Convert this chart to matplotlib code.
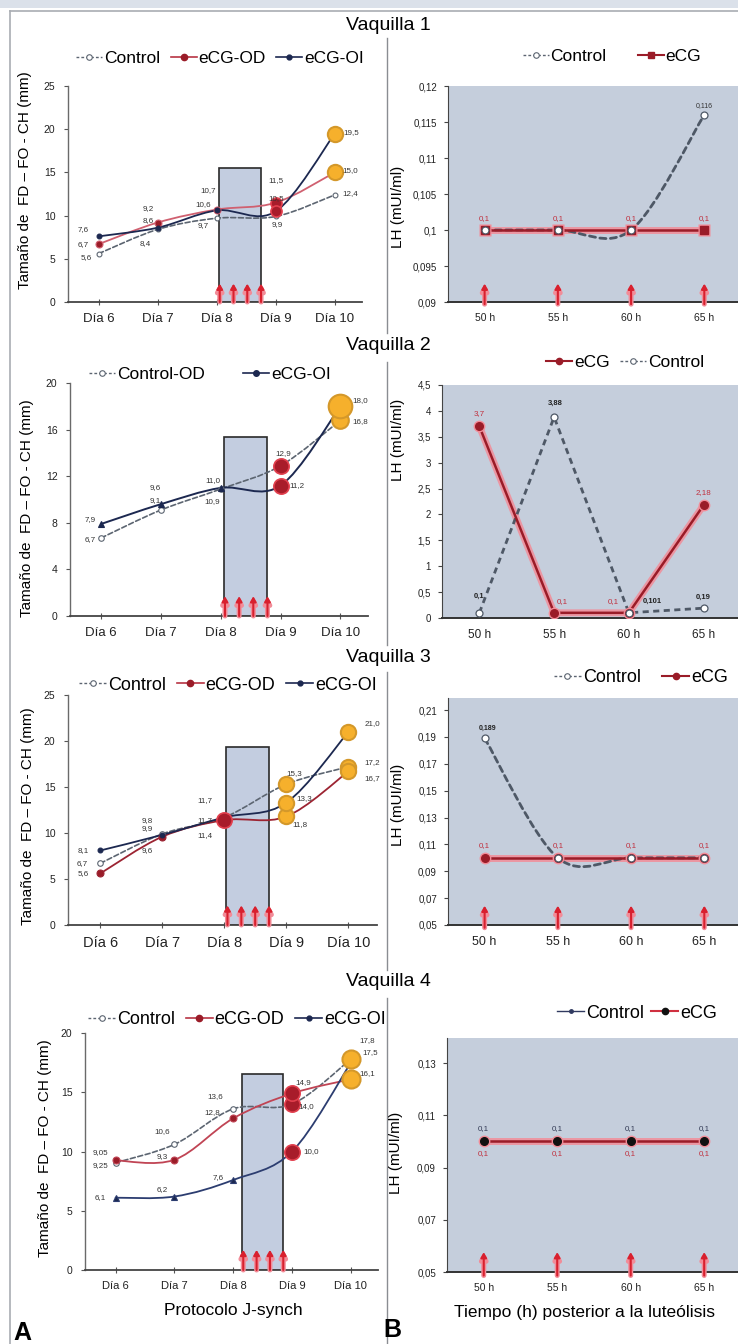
import numpy as np
import matplotlib
matplotlib.use("Agg")
import matplotlib.pyplot as plt
from matplotlib.path import Path
from matplotlib.patches import PathPatch, Rectangle
from matplotlib.lines import Line2D
from matplotlib.ticker import FuncFormatter

plt.rcParams['font.family'] = ['Liberation Sans', 'DejaVu Sans']

# ---- data ----
days = ['Día 6', 'Día 7', 'Día 8', 'Día 9', 'Día 10']
hours = ['50 h', '55 h', '60 h', '65 h']

# follicle size (mm), panel A
v1_ctrl = [5.6, 8.4, 9.7, 9.9, 12.4]
v1_od = [6.7, 9.2, 10.7, 11.5, 15.0]
v1_oi = [7.6, 8.6, 10.6, 10.5, 19.5]
v2_ctrl = [6.7, 9.1, 10.9, 12.9, 16.8]
v2_oi = [7.9, 9.6, 11.0, 11.2, 18.0]
v3_ctrl = [6.7, 9.9, 11.7, 15.3, 17.2]
v3_od = [5.6, 9.6, 11.4, 11.8, 16.7]
v3_oi = [8.1, 9.8, 11.7, 13.3, 21.0]
v4_ctrl = [9.05, 10.6, 13.6, 14.0, 17.8]
v4_od = [9.25, 9.3, 12.8, 14.9, 16.1]
v4_oi = [6.1, 6.2, 7.6, 10.0, 17.5]

# highlighted follicles: r = red (FD), o = orange (FO), O = large orange
v1_ctrl_mk = ['', '', '', '', '']
v1_od_mk = ['', '', '', 'r', 'o']
v1_oi_mk = ['', '', '', 'r', 'o']
v2_ctrl_mk = ['', '', '', 'r', 'o']
v2_oi_mk = ['', '', '', 'r', 'O']
v3_ctrl_mk = ['', '', '', 'o', 'o']
v3_od_mk = ['', '', 'r', 'o', 'o']
v3_oi_mk = ['', '', '', 'o', 'o']
v4_ctrl_mk = ['', '', '', 'r', 'o']
v4_od_mk = ['', '', '', 'r', 'o']
v4_oi_mk = ['', '', '', 'r', '']

# LH (mUI/ml), panel B
r1_ctrl = [0.1, 0.1, 0.1, 0.116]
r1_ecg = [0.1, 0.1, 0.1, 0.1]
r2_ecg = [3.7, 0.1, 0.1, 2.18]
r2_ctrl = [0.1, 3.88, 0.101, 0.19]
r3_ctrl = [0.189, 0.1, 0.1, 0.1]
r3_ecg = [0.1, 0.1, 0.1, 0.1]
r4_ctrl = [0.1, 0.1, 0.1, 0.1]
r4_ecg = [0.1, 0.1, 0.1, 0.1]

# ---- style ----
W, H = 738, 1344
CTRL = '#5c6571'
OD = '#b83443'
OI = '#1c2850'
DKRED = '#9a1c28'
PINK = '#f28c98'
RED_FILL, RED_EDGE = '#a81c2a', '#e2404e'
ORG_FILL, ORG_EDGE = '#f6b02c', '#d4982a'
BG = '#c5cedc'
RECT = '#c3cde0'

fig = plt.figure(figsize=(W / 100, H / 100), dpi=100)


def px_axes(x0, y0, x1, y1):
    return fig.add_axes([x0 / W, 1 - y1 / H, (x1 - x0) / W, (y1 - y0) / H])


def fx(x):
    return x / W


def fy(y):
    return 1 - y / H


def fmt(v):
    s = f"{v:.3f}".rstrip('0')
    if s.endswith('.'):
        s += '0'
    return s.replace('.', ',')


comma = FuncFormatter(lambda v, p: f"{v:g}".replace('.', ','))


def smooth_path(xs, ys):
    pts = np.column_stack([xs, ys]).astype(float)
    n = len(pts)
    verts, codes = [pts[0]], [Path.MOVETO]
    for i in range(n - 1):
        p0 = pts[i - 1] if i > 0 else pts[i]
        p1, p2 = pts[i], pts[i + 1]
        p3 = pts[i + 2] if i + 2 < n else pts[i + 1]
        verts += [p1 + (p2 - p0) / 6, p2 - (p3 - p1) / 6, p2]
        codes += [Path.CURVE4] * 3
    return Path(verts, codes)


def curve(ax, xs, ys, color, lw, ls='-', z=3):
    ax.add_patch(PathPatch(smooth_path(xs, ys), fill=False, edgecolor=color,
                           lw=lw, linestyle=ls, zorder=z, capstyle='round'))


def labels(ax, xs, ys, offs, color='#333333', size=5.8, weight='normal'):
    for x, y, (dx, dy) in zip(xs, ys, offs):
        ax.annotate(fmt(y), (x, y), xytext=(dx, dy), textcoords='offset points',
                    ha='center', va='center', fontsize=size, color=color,
                    weight=weight, zorder=8, annotation_clip=False)


def red_arrows(ax, xs, frac, bottom=-0.012):
    for x in xs:
        for col, lw in ((PINK, 3.6), ('#d8202e', 1.5)):
            ax.annotate('', xy=(x, frac), xytext=(x, bottom),
                        xycoords=ax.get_xaxis_transform(),
                        arrowprops=dict(arrowstyle='-|>,head_width=0.17,head_length=0.3',
                                        color=col, lw=lw, shrinkA=0, shrinkB=0),
                        annotation_clip=False, zorder=6)


def highlight(ax, xs, ys, kinds, sizes):
    for x, y, k in zip(xs, ys, kinds):
        if k == 'r':
            ax.plot(x, y, 'o', ms=sizes[0], mfc=RED_FILL, mec=RED_EDGE, mew=1.2, zorder=5)
        elif k in ('o', 'O'):
            ms = sizes[1] if k == 'o' else sizes[2]
            ax.plot(x, y, 'o', ms=ms, mfc=ORG_FILL, mec=ORG_EDGE, mew=1.5, zorder=5)


def style_left(ax, ymax, ystep, tick_fs):
    x = np.arange(len(days))
    ax.set_xlim(-0.52, 4.46)
    ax.set_ylim(0, ymax)
    ax.set_xticks(x)
    ax.set_xticklabels(days, fontsize=tick_fs, color='#222222')
    ax.set_yticks(np.arange(0, ymax + 0.1, ystep))
    ax.tick_params(axis='x', direction='inout', length=4, width=0.8, pad=6, color='#555555')
    ax.tick_params(axis='y', direction='out', length=3, width=0.8, labelsize=7.5,
                   color='#555555', labelcolor='#222222', pad=6)
    for s in ('top', 'right'):
        ax.spines[s].set_visible(False)
    ax.spines['left'].set_color('#6a6a6a')
    ax.spines['bottom'].set_color('#444444')
    ax.spines['left'].set_linewidth(1.0)
    ax.spines['bottom'].set_linewidth(1.3)
    ax.set_facecolor('none')


def window(ax, x0, x1, top):
    ax.add_patch(Rectangle((x0, 0), x1 - x0, top, fc=RECT, ec='#2a2a2a', lw=1.2, zorder=1))
    red_arrows(ax, np.linspace(x0 + 0.02, x1, 4), 0.085, bottom=0.0)


def style_right(ax, ylim, yticks, tick_fs=7.5):
    ax.set_xlim(-0.5, 3.46)
    ax.set_ylim(*ylim)
    ax.set_xticks(np.arange(len(hours)))
    ax.set_xticklabels(hours, fontsize=tick_fs, color='#222222')
    ax.set_yticks(yticks)
    ax.yaxis.set_major_formatter(comma)
    ax.tick_params(axis='x', length=0, pad=8)
    ax.tick_params(axis='y', direction='out', length=3, width=0.8, labelsize=7,
                   color='#444444', labelcolor='#222222', pad=5)
    ax.set_facecolor(BG)
    for s in ('top', 'right'):
        ax.spines[s].set_visible(False)
    ax.spines['left'].set_color('#444444')
    ax.spines['bottom'].set_color('#333333')
    ax.spines['bottom'].set_linewidth(1.4)


def ecg_line(ax, ys, marker='o', mfc=DKRED, ms=6):
    x = np.arange(len(ys))
    ax.plot(x, ys, color=PINK, lw=5, alpha=0.85, solid_capstyle='round', zorder=3)
    ax.plot(x, ys, color=DKRED, lw=1.8, zorder=4)
    ax.plot(x, ys, marker, ms=ms + 3, mfc=PINK, mec='none', zorder=4)
    ax.plot(x, ys, marker, ms=ms, mfc=mfc, mec=mfc, zorder=5)


def ctrl_open(ax, ys, smooth=True, ms=5):
    x = np.arange(len(ys))
    if smooth:
        curve(ax, x, ys, '#4e5866', 2.0, ls=(0, (2.2, 1.6)), z=4)
    else:
        ax.plot(x, ys, color='#4e5866', lw=2.0, ls=(0, (2.2, 1.6)), zorder=4)
    ax.plot(x, ys, 'o', ms=ms, mfc='white', mec='#4e5866', mew=0.9, zorder=6)


def legend_at(ax, handles, names, cx, cy, fs=12.5, colsp=0.6):
    ax.legend(handles, names, loc='center', bbox_to_anchor=(fx(cx), fy(cy)),
              bbox_transform=fig.transFigure, ncol=len(handles), frameon=False,
              fontsize=fs, handlelength=1.5, handletextpad=0.1, columnspacing=colsp,
              borderaxespad=0)


def h_ctrl(mfc='white'):
    return Line2D([], [], color='#5c6571', lw=1.0, ls=(0, (2, 1.5)), marker='o', ms=4,
                  mfc=mfc, mec='#5c6571', mew=0.8)


def h_line(color, marker='o', mfc=None, ms=4.5, lw=1.2):
    return Line2D([], [], color=color, lw=lw, marker=marker, ms=ms,
                  mfc=mfc or color, mec=mfc or color)


def left_series(ax, ys, color, ls, lw, marker, mfc, ms, offs, kinds, sizes):
    x = np.arange(len(ys))
    curve(ax, x, ys, color, lw, ls=ls)
    ax.plot(x, ys, marker, ms=ms, mfc=mfc, mec=color, mew=0.8, zorder=4)
    highlight(ax, x, ys, kinds, sizes)
    labels(ax, x, ys, offs)


DASH = (0, (3, 1.6))

# ---- page frame ----
fig.patches.append(Rectangle((0, fy(8)), 1, 1 - fy(8), transform=fig.transFigure,
                             fc='#dbe1ea', ec='none', zorder=0))
fig.add_artist(Line2D([fx(10), 1], [fy(11), fy(11)], color='#a9adb3', lw=1.2))
fig.add_artist(Line2D([fx(10), fx(10)], [fy(11), 0], color='#a9adb3', lw=1.2))
for y0, y1 in ((38, 333), (362, 645), (672, 970), (998, 1344)):
    fig.add_artist(Line2D([fx(387), fx(387)], [fy(y0), fy(y1)], color='#8a8d92', lw=1.0))

for i, yc in enumerate((26, 346, 657, 982)):
    fig.text(fx(388), fy(yc), f'Vaquilla {i + 1}', ha='center', va='center', fontsize=14)

ylab_l = 'Tamaño de  FD – FO - CH (mm)'
for x, yc in ((25, 180), (27, 508), (28, 816), (45, 1148)):
    fig.text(fx(x), fy(yc), ylab_l, rotation=90, ha='center', va='center', fontsize=11)
for x, yc in ((398, 207), (398, 440), (398, 805), (396, 1153)):
    fig.text(fx(x), fy(yc), 'LH (mUI/ml)', rotation=90, ha='center', va='center', fontsize=11)

# ---- Vaquilla 1 ----
ax = px_axes(68, 86, 362, 302)
style_left(ax, 25, 5, 9.5)
window(ax, 2.03, 2.75, 15.5)
left_series(ax, v1_ctrl, CTRL, DASH, 1.2, 'o', 'white', 3.5,
            [(-9, -3), (-9, -10), (-10, -5), (1, -6), (11, 1)], v1_ctrl_mk, (8, 11, 14))
left_series(ax, v1_od, '#d06070', '-', 1.3, 'o', DKRED, 5,
            [(-11, 0), (-7, 10), (-6, 14), (0, 16), (11, 1)], v1_od_mk, (8, 11, 14))
left_series(ax, v1_oi, OI, '-', 1.3, 'o', OI, 3.5,
            [(-11, 5), (-7, 5), (-10, 4), (0, 9), (12, 1)], v1_oi_mk, (8, 11, 14))
legend_at(ax, [h_ctrl(), h_line(OD, mfc=DKRED), h_line(OI, ms=3.5)],
          ['Control', 'eCG-OD', 'eCG-OI'], 220, 58)

ax = px_axes(448, 86, 738, 302)
style_right(ax, (0.09, 0.12), [0.09, 0.095, 0.1, 0.105, 0.11, 0.115, 0.12])
ctrl_open(ax, r1_ctrl)
ecg_line(ax, r1_ecg, marker='s', ms=5.5)
labels(ax, [3], [r1_ctrl[3]], [(0, 7)], color='#333333', size=5)
labels(ax, np.arange(4), r1_ecg, [(0, 8)] * 4, color='#c0303e', size=5.8)
red_arrows(ax, np.arange(4), 0.085, bottom=-0.01)
legend_at(ax, [h_ctrl(), h_line(DKRED, marker='s', lw=1.5)], ['Control', 'eCG'], 612, 56,
          colsp=1.8)

# ---- Vaquilla 2 ----
ax = px_axes(70, 383, 368, 616)
style_left(ax, 20, 4, 9.5)
window(ax, 2.05, 2.78, 15.4)
left_series(ax, v2_ctrl, CTRL, DASH, 1.2, 'o', 'white', 4,
            [(-8, -1), (-4, 7), (-6, -9), (2, 9), (14, -1)], v2_ctrl_mk, (11, 12, 17))
left_series(ax, v2_oi, OI, '-', 1.4, '^', OI, 5,
            [(-8, 3), (-4, 12), (-6, 5), (12, 0), (14, 4)], v2_oi_mk, (11, 12, 17))
legend_at(ax, [h_ctrl(), h_line(OI, ms=4)], ['Control-OD', 'eCG-OI'], 210, 374, colsp=2.2)

ax = px_axes(442, 385, 738, 618)
style_right(ax, (0, 4.5), np.arange(0, 4.6, 0.5), tick_fs=8.5)
ctrl_open(ax, r2_ctrl, smooth=False)
ecg_line(ax, r2_ecg, ms=5.5)
labels(ax, np.arange(4), r2_ecg, [(0, 9), (6, 8), (-11, 8), (0, 9)], color='#c0303e', size=5.8)
labels(ax, np.arange(4), r2_ctrl, [(0, 12), (1, 10), (17, 8), (0, 8)], color='#222222',
       size=5.5, weight='bold')
legend_at(ax, [h_line(DKRED, lw=1.5), h_ctrl()], ['eCG', 'Control'], 625, 362)

# ---- Vaquilla 3 ----
ax = px_axes(68, 695, 377, 925)
style_left(ax, 25, 5, 10.5)
window(ax, 2.03, 2.72, 19.4)
left_series(ax, v3_ctrl, CTRL, DASH, 1.2, 'o', 'white', 4,
            [(-13, 0), (-11, 4), (-14, 12), (6, 8), (17, 3)], v3_ctrl_mk, (11, 11, 14))
left_series(ax, v3_od, '#9c2432', '-', 1.3, 'o', DKRED, 5,
            [(-12, 0), (-11, -10), (-14, -11), (10, -6), (17, -5)], v3_od_mk, (11, 11, 14))
left_series(ax, v3_oi, OI, '-', 1.3, 'o', OI, 3.5,
            [(-12, 0), (-11, 10), (-14, -2), (13, 3), (17, 6)], v3_oi_mk, (11, 11, 14))
legend_at(ax, [h_ctrl(), h_line(OD, mfc=DKRED), h_line(OI, ms=3.5)],
          ['Control', 'eCG-OD', 'eCG-OI'], 228, 685, fs=13)

ax = px_axes(448, 698, 738, 925)
style_right(ax, (0.05, 0.219), np.arange(0.05, 0.22, 0.02), tick_fs=9)
ctrl_open(ax, r3_ctrl)
ecg_line(ax, r3_ecg, ms=5.5)
labels(ax, [0], [r3_ctrl[0]], [(2, 7)], color='#222222', size=5, weight='bold')
labels(ax, np.arange(4), r3_ecg, [(0, 9)] * 4, color='#c0303e', size=5.8)
red_arrows(ax, np.arange(4), 0.085, bottom=-0.012)
legend_at(ax, [h_ctrl(), h_line(DKRED, lw=1.5)], ['Control', 'eCG'], 641, 678, fs=13,
          colsp=1.2)

# ---- Vaquilla 4 ----
ax = px_axes(85, 1033, 378, 1270)
style_left(ax, 20, 5, 8)
window(ax, 2.15, 2.85, 16.5)
left_series(ax, v4_ctrl, CTRL, DASH, 1.2, 'o', 'white', 4,
            [(-11, 7), (-9, 9), (-13, 9), (10, -2), (12, 13)], v4_ctrl_mk, (11, 13, 15))
left_series(ax, v4_od, '#c04454', '-', 1.3, 'o', DKRED, 5,
            [(-11, -4), (-9, 2), (-15, 4), (8, 8), (12, 4)], v4_od_mk, (11, 13, 15))
left_series(ax, v4_oi, '#2c3d70', '-', 1.3, '^', OI, 4,
            [(-11, 0), (-9, 5), (-11, 2), (14, 0), (14, 7)], v4_oi_mk, (11, 13, 15))
legend_at(ax, [h_ctrl(), h_line(OD, mfc=DKRED), h_line(OI, ms=3.5)],
          ['Control', 'eCG-OD', 'eCG-OI'], 237, 1020, fs=13)

ax = px_axes(447, 1038, 738, 1272)
style_right(ax, (0.05, 0.1396), [0.05, 0.07, 0.09, 0.11, 0.13])
ax.plot(np.arange(4), r4_ctrl, color='#303a60', lw=1, zorder=3)
ecg_line(ax, r4_ecg, mfc='#111111', ms=5.5)
labels(ax, np.arange(4), r4_ctrl, [(0, 9)] * 4, color='#333a55', size=5.8)
labels(ax, np.arange(4), r4_ecg, [(0, -9)] * 4, color='#c0303e', size=5.8)
red_arrows(ax, np.arange(4), 0.085, bottom=-0.015)
legend_at(ax, [h_line('#303a60', ms=2.5, lw=1), h_line('#d03040', mfc='#111111', lw=1.5)],
          ['Control', 'eCG'], 637, 1013, fs=13, colsp=0.4)

fig.text(fx(233), fy(1310), 'Protocolo J-synch', ha='center', va='center', fontsize=12.5)
fig.text(fx(585), fy(1313), 'Tiempo (h) posterior a la luteólisis', ha='center', va='center',
         fontsize=12.5)
fig.text(fx(22), fy(1333), 'A', ha='center', va='center', fontsize=18, weight='bold')
fig.text(fx(392), fy(1330), 'B', ha='center', va='center', fontsize=18, weight='bold')

fig.savefig('out.png', dpi=100, facecolor='white')
